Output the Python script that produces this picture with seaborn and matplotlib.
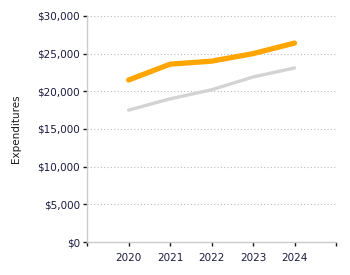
import numpy as np
import pandas as pd
import seaborn as sns
import matplotlib
matplotlib.use('Agg')
import matplotlib.pyplot as plt
from matplotlib.ticker import FuncFormatter

# data
years = [2020, 2021, 2022, 2023, 2024]
series_a = [21500, 23600, 24000, 25000, 26400]  # orange
series_b = [17500, 19000, 20200, 21900, 23100]  # gray

df = pd.DataFrame({
    'Year': years * 2,
    'Expenditures': series_a + series_b,
    'Series': ['A'] * len(years) + ['B'] * len(years),
})

sns.set_theme(style='white')
plt.rcParams['font.family'] = ['DejaVu Sans']

fig = plt.figure(figsize=(3.5, 2.75), dpi=100)
ax = fig.add_axes([0.249, 0.12, 0.711, 0.822])

sns.lineplot(data=df[df['Series'] == 'B'], x='Year', y='Expenditures',
             color='#d3d3d3', linewidth=2.4, ax=ax, legend=False)
sns.lineplot(data=df[df['Series'] == 'A'], x='Year', y='Expenditures',
             color='#ffa500', linewidth=3.8, ax=ax, legend=False,
             solid_capstyle='round')

ax.set_xlim(2019, 2025)
ax.set_ylim(0, 30000)
ax.set_xticks(range(2019, 2026))
ax.set_xticklabels([''] + [str(y) for y in years] + [''])
ax.set_yticks(range(0, 30001, 5000))
ax.yaxis.set_major_formatter(FuncFormatter(lambda v, p: f'${int(v):,}'))

ax.grid(axis='y', linestyle=(0, (1, 2)), color='#bbbbbb', linewidth=0.8)
ax.grid(axis='x', visible=False)
for s in ['top', 'right']:
    ax.spines[s].set_visible(False)
for s in ['left', 'bottom']:
    ax.spines[s].set_color('#cccccc')
    ax.spines[s].set_linewidth(1)

ax.tick_params(axis='both', which='both', labelsize=7.5, colors='#1a1a1a',
               length=3, width=1, direction='out', pad=2,
               left=True, bottom=True)
ax.tick_params(axis='y', labelcolor='#1a1a40')
ax.tick_params(axis='x', labelcolor='#1a1a40', pad=5)

ax.set_xlabel('')
ax.set_ylabel('Expenditures', fontsize=7.5, color='#1a1a1a', labelpad=12)

plt.savefig('out.png', dpi=100)
